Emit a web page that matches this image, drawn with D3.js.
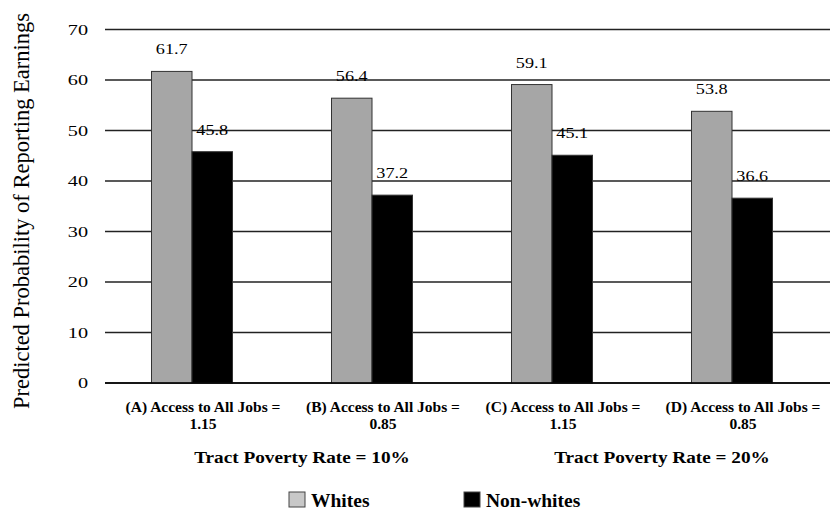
<!DOCTYPE html>
<html>
<head>
<meta charset="utf-8">
<script src="https://cdn.jsdelivr.net/npm/d3@7"></script>
<style>
  body { margin: 0; background: #fff; }
  svg { font-family: "Liberation Serif", "DejaVu Serif", serif; }
</style>
</head>
<body>
<div id="chart"></div>
<script>
// data
const categories = ["A", "B", "C", "D"];
const catLine1 = ["(A) Access to All Jobs =", "(B) Access to All Jobs =", "(C) Access to All Jobs =", "(D) Access to All Jobs ="];
const catLine2 = ["1.15", "0.85", "1.15", "0.85"];
const groupLabels = ["Tract Poverty Rate = 10%", "Tract Poverty Rate = 20%"];
const seriesNames = ["Whites", "Non-whites"];
const whites = [61.7, 56.4, 59.1, 53.8];
const nonWhites = [45.8, 37.2, 45.1, 36.6];
const yTicks = [0, 10, 20, 30, 40, 50, 60, 70];

const width = 832, height = 512;
const colors = { "Whites": "#a6a6a6", "Non-whites": "#000" };
const legendColors = { "Whites": "#c8c8c8", "Non-whites": "#000" };

const svg = d3.select("#chart").append("svg")
  .attr("width", width)
  .attr("height", height);

// scales
const x0 = d3.scaleBand()
  .domain(categories)
  .range([102, 822])
  .paddingInner(0.55)
  .paddingOuter(0.275);

const x1 = d3.scaleBand()
  .domain(seriesNames)
  .range([0, x0.bandwidth()]);

const y = d3.scaleLinear()
  .domain([0, 70])
  .range([383, 29.5]);

const gridX = [105, 830];
const catCenter = c => x0(c) + x0.bandwidth() / 2;

// gridlines
svg.append("g").selectAll("line")
  .data(yTicks)
  .enter().append("line")
  .attr("x1", gridX[0])
  .attr("x2", gridX[1])
  .attr("y1", d => y(d))
  .attr("y2", d => y(d))
  .attr("stroke", "#222")
  .attr("stroke-width", 1.4);

// y axis labels (reference font is wide, so stretch horizontally)
const yAxis = d3.axisLeft(y).tickValues(yTicks).tickSize(0).tickPadding(0);
svg.append("g")
  .attr("transform", "translate(88,0)")
  .call(yAxis)
  .call(g => g.select(".domain").remove())
  .selectAll("text")
  .attr("x", 0)
  .attr("transform", "scale(1.35,1)")
  .attr("font-family", "'Liberation Serif', serif")
  .attr("font-size", 15)
  .attr("fill", "#000");

// y title
svg.append("text")
  .attr("transform", "translate(29,211) rotate(-90)")
  .attr("text-anchor", "middle")
  .attr("font-size", 22.5)
  .text("Predicted Probability of Reporting Earnings");

// bars
const rows = categories.map((c, i) => ({
  cat: c,
  values: [
    { name: "Whites", value: whites[i] },
    { name: "Non-whites", value: nonWhites[i] }
  ]
}));

const groups = svg.append("g").selectAll("g")
  .data(rows)
  .enter().append("g")
  .attr("transform", d => "translate(" + x0(d.cat) + ",0)");

groups.selectAll("rect")
  .data(d => d.values)
  .enter().append("rect")
  .attr("x", d => x1(d.name))
  .attr("y", d => y(d.value))
  .attr("width", x1.bandwidth())
  .attr("height", d => y(0) - y(d.value))
  .attr("fill", d => colors[d.name])
  .attr("stroke", "#333")
  .attr("stroke-width", 1);

groups.selectAll("text")
  .data(d => d.values)
  .enter().append("text")
  .attr("transform", d => "translate(" + (x1(d.name) + x1.bandwidth() / 2) + "," + (y(d.value) - 17) + ") scale(1.3,1)")
  .attr("text-anchor", "middle")
  .attr("font-size", 14)
  .text(d => d.value.toFixed(1));

// baseline
svg.append("line")
  .attr("x1", gridX[0]).attr("x2", gridX[1])
  .attr("y1", y(0)).attr("y2", y(0))
  .attr("stroke", "#000")
  .attr("stroke-width", 1.6);

// category labels
const catG = svg.append("g")
  .attr("font-weight", "bold")
  .attr("font-size", 15.5)
  .attr("text-anchor", "middle");

categories.forEach((c, i) => {
  const cx = catCenter(c) + 11;
  catG.append("text").attr("x", cx).attr("y", 412).text(catLine1[i]);
  catG.append("text").attr("x", cx).attr("y", 429).text(catLine2[i]);
});

// group labels (two categories each)
groupLabels.forEach((g, i) => {
  const cx = (catCenter(categories[i * 2]) + catCenter(categories[i * 2 + 1])) / 2 + 20;
  svg.append("text")
    .attr("transform", "translate(" + cx + ",463) scale(1.1,1)")
    .attr("text-anchor", "middle")
    .attr("font-weight", "bold")
    .attr("font-size", 17.5)
    .text(g);
});

// legend
const legendX = [289, 464];
const legend = svg.append("g").selectAll("g")
  .data(seriesNames)
  .enter().append("g")
  .attr("transform", (d, i) => "translate(" + legendX[i] + ",492)");

legend.append("rect")
  .attr("width", 16)
  .attr("height", 15)
  .attr("fill", d => legendColors[d])
  .attr("stroke", "#444")
  .attr("stroke-width", 1);

legend.append("text")
  .attr("x", 22)
  .attr("y", 14.5)
  .attr("font-weight", "bold")
  .attr("font-size", 19.5)
  .text(d => d);
</script>
</body>
</html>
